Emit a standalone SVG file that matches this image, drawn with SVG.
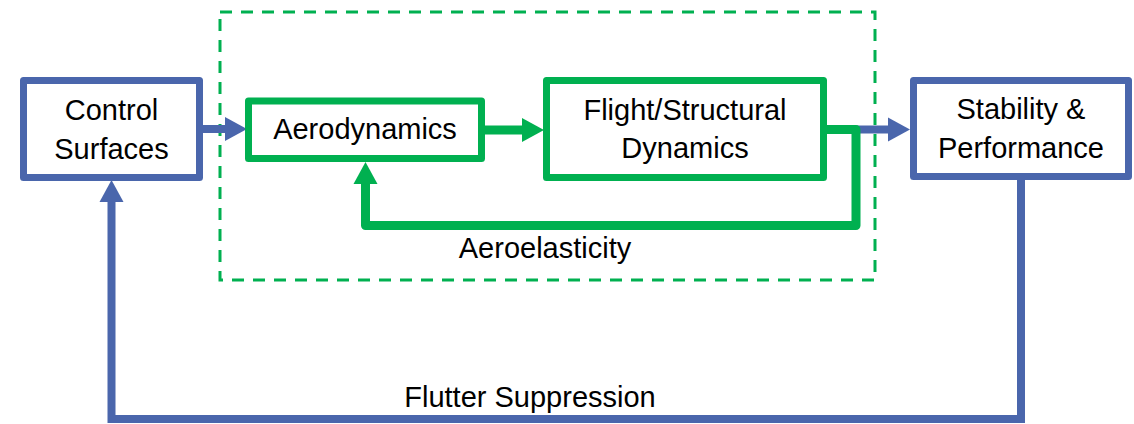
<svg xmlns="http://www.w3.org/2000/svg" width="1134" height="424" viewBox="0 0 1134 424">
  <style>
    .txt { font-family: "Liberation Sans", Arial, sans-serif; font-size: 29px; fill: #000; text-anchor: middle; }
    .bbox { fill: #fff; stroke: #4A66AC; stroke-width: 7; stroke-linejoin: round; }
    .gbox { fill: #fff; stroke: #00B050; stroke-width: 7; stroke-linejoin: round; }
    .bline { fill: none; stroke: #4A66AC; stroke-width: 8; stroke-linejoin: miter; }
    .gline { fill: none; stroke: #00B050; stroke-width: 9; stroke-linejoin: round; }
    .dash { fill: none; stroke: #00B050; stroke-width: 3; stroke-dasharray: 12 9; }
  </style>
  <defs>
    <marker id="ab" markerUnits="userSpaceOnUse" markerWidth="23" markerHeight="24" refX="0" refY="12" orient="auto" overflow="visible">
      <path d="M0,0 L22,12 L0,24 Z" fill="#4A66AC"/>
    </marker>
    <marker id="ag" markerUnits="userSpaceOnUse" markerWidth="23" markerHeight="24" refX="0" refY="12" orient="auto" overflow="visible">
      <path d="M0,0 L22,12 L0,24 Z" fill="#00B050"/>
    </marker>
  </defs>

  <rect id="aeroelastic-boundary" class="dash" x="220" y="12" width="655" height="268"/>

  <g id="connectors">
    <path class="bline" d="M203,129 H225" marker-end="url(#ab)"/>
    <path class="bline" d="M827,129.5 H888" marker-end="url(#ab)"/>
    <path class="bline" d="M1021,180 V419 H111.5 V202" marker-end="url(#ab)"/>
    <path class="gline" d="M485,130 H522" marker-end="url(#ag)"/>
    <path class="gline" d="M827,129.5 H856 V225.5 H365.5 V184" marker-end="url(#ag)"/>
  </g>

  <g id="control-surfaces">
    <rect class="bbox" x="23.5" y="80.5" width="176" height="97"/>
    <text class="txt" x="111.5" y="120">Control</text>
    <text class="txt" x="111.5" y="159">Surfaces</text>
  </g>

  <g id="aerodynamics">
    <rect class="gbox" x="248.5" y="101" width="233" height="57.5"/>
    <text class="txt" x="365" y="139">Aerodynamics</text>
  </g>

  <g id="flight-structural-dynamics">
    <rect class="gbox" x="546.5" y="80.5" width="277" height="97"/>
    <text class="txt" x="685" y="120">Flight/Structural</text>
    <text class="txt" x="685" y="158">Dynamics</text>
  </g>

  <g id="stability-performance">
    <rect class="bbox" x="913.5" y="80.5" width="215" height="96"/>
    <text class="txt" x="1021" y="119">Stability &amp;</text>
    <text class="txt" x="1021" y="158">Performance</text>
  </g>

  <g id="labels">
    <text class="txt" x="545" y="258">Aeroelasticity</text>
    <text class="txt" x="530" y="407">Flutter Suppression</text>
  </g>
</svg>
